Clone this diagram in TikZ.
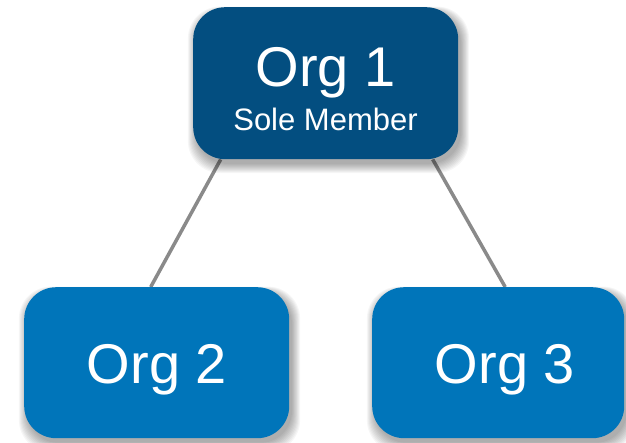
\documentclass[tikz,border=0pt]{standalone}
\usepackage{fontspec}
\setmainfont{Liberation Sans}
\pgfdeclarelayer{bg}
\pgfdeclarelayer{lines}
\pgfdeclarelayer{shadowl}
\pgfsetlayers{bg,lines,shadowl,main}
\definecolor{darkblue}{HTML}{034E80}
\definecolor{midblue}{HTML}{0075BA}
\definecolor{linegray}{HTML}{8A8A8A}
\tikzset{
  orgbox/.style={rectangle, rounded corners=32pt, draw=none, inner sep=0pt, anchor=north west},
  bigtext/.style={text=white, font=\fontsize{56}{60}\selectfont, anchor=base, inner sep=0pt},
  smalltext/.style={text=white, font=\fontsize{31}{34}\selectfont, anchor=base, inner sep=0pt},
  conn/.style={draw=linegray, line width=3.5pt}
}
\newcommand{\blurshadow}[4]{%
  \foreach \i in {0,1,...,9}{
    \fill[black, opacity=0.035, rounded corners=32pt]
      (#1+3-\i*0.9, #2+5-\i*0.6) rectangle (#3+3+\i*0.9, #4+5+\i*1.0);
  }%
}
\begin{document}
\begin{tikzpicture}[x=1pt, y=-1pt]
\useasboundingbox (0,0) rectangle (626,442);
\begin{pgfonlayer}{bg}
\fill[white] (0,0) rectangle (626,442);
\end{pgfonlayer}
% boxes
\node[orgbox, fill=darkblue, minimum width=265pt, minimum height=152pt] (b1) at (193,7) {};
\node[orgbox, fill=midblue, minimum width=265pt, minimum height=151pt] (b2) at (24,287) {};
\node[orgbox, fill=midblue, minimum width=252pt, minimum height=151pt] (b3) at (372,287) {};
% texts
\node[bigtext] (t1) at (325.5,86) {Org 1};
\node[smalltext] (t1s) at (325.5,130) {Sole Member};
\node[bigtext] (t2) at (157,383) {Org 2};
\node[bigtext] (t3) at (505,383) {Org 3};
% shadows
\begin{pgfonlayer}{shadowl}
\blurshadow{193}{7}{458}{159}
\blurshadow{24}{287}{289}{438}
\blurshadow{372}{287}{624}{438}
\end{pgfonlayer}
% connectors
\begin{pgfonlayer}{lines}
\draw[conn] ([xshift=-105pt]b1.south) -- ([xshift=-6pt]b2.north);
\draw[conn] ([xshift=107pt]b1.south) -- ([xshift=7pt]b3.north);
\end{pgfonlayer}
\end{tikzpicture}
\end{document}
